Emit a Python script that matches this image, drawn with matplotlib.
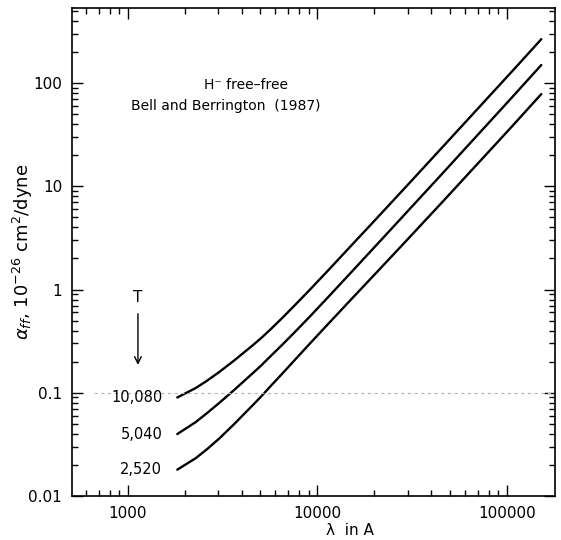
import matplotlib
matplotlib.use('Agg')
import matplotlib.pyplot as plt
from matplotlib.ticker import LogLocator, FixedLocator, FixedFormatter, NullFormatter

# wavelengths (Angstrom)
wavelength = [1823, 2278, 2604, 3038, 3645, 4557, 5063, 5696, 6510, 7595,
              9113, 11390, 15190, 18227, 22784, 30380, 45570, 60760,
              91130, 113900, 151890]

# alpha_ff in 1e-26 cm^2/dyne
alpha_10080 = [0.090, 0.111, 0.130, 0.159, 0.206, 0.288, 0.340, 0.416, 0.528, 0.703,
               0.993, 1.53, 2.70, 3.86, 6.00, 10.6, 23.8, 42.3,
               95.1, 148.6, 266]
alpha_5040 = [0.0398, 0.0519, 0.0631, 0.0798, 0.1067, 0.1545, 0.1845, 0.2286, 0.2904, 0.3864,
              0.5458, 0.8433, 1.489, 2.138, 3.327, 5.902, 13.24, 23.6,
              53.2, 83.4, 149.6]
alpha_2520 = [0.0180, 0.0232, 0.0282, 0.0361, 0.0499, 0.0757, 0.0925, 0.1172, 0.1524, 0.2075,
              0.2985, 0.4634, 0.8147, 1.161, 1.795, 3.155, 7.015, 12.45,
              27.9, 43.65, 78.2]

curves = [("10,080", alpha_10080), ("5,040", alpha_5040), ("2,520", alpha_2520)]

xticks = [1000, 10000, 100000]
xticklabels = ["1000", "10000", "100000"]
yticks = [0.01, 0.1, 1, 10, 100]
yticklabels = ["0.01", "0.1", "1", "10", "100"]

plt.rcParams['font.family'] = ['DejaVu Sans']

fig = plt.figure(figsize=(5.61, 5.40), dpi=100)
ax = fig.add_axes([0.128, 0.0815, 0.861, 0.9035])

for label, vals in curves:
    ax.plot(wavelength, vals, color='black', lw=1.7, solid_capstyle='round')
    ax.text(wavelength[0] / 1.2, vals[0], label, ha='right', va='center', fontsize=10.5)

# faint dotted line at 0.1 seen in the scan
ax.axhline(0.1, xmin=0.045, xmax=1.0, color='#b5b5b5', lw=0.8, ls=(0, (3, 3)))

ax.set_xscale('log')
ax.set_yscale('log')
ax.set_xlim(506, 179000)
ax.set_ylim(0.01, 532)

ax.xaxis.set_major_locator(FixedLocator(xticks))
ax.xaxis.set_major_formatter(FixedFormatter(xticklabels))
ax.yaxis.set_major_locator(FixedLocator(yticks))
ax.yaxis.set_major_formatter(FixedFormatter(yticklabels))
ax.xaxis.set_minor_locator(LogLocator(base=10, subs=range(2, 10)))
ax.yaxis.set_minor_locator(LogLocator(base=10, subs=range(2, 10)))
ax.xaxis.set_minor_formatter(NullFormatter())
ax.yaxis.set_minor_formatter(NullFormatter())

ax.tick_params(which='both', direction='in', top=True, right=True, labelsize=11, width=1.0)
ax.tick_params(which='major', length=8, pad=7)
ax.tick_params(which='minor', length=4)
for s in ax.spines.values():
    s.set_linewidth(1.2)

ax.set_xlabel("λ  in A", fontsize=11, x=0.576, labelpad=2)
ax.set_ylabel(r"$\alpha_{ff}$, 10$^{-26}$ cm$^{2}$/dyne", fontsize=13)
ax.yaxis.set_label_coords(-0.077, 0.5)

ax.text(0.36, 0.843, "H⁻ free–free", transform=ax.transAxes, ha='center', va='center', fontsize=10)
ax.text(0.318, 0.80, "Bell and Berrington  (1987)", transform=ax.transAxes,
        ha='center', va='center', fontsize=10)

# T with arrow
ax.text(1130, 0.83, "T", ha='center', va='center', fontsize=11)
ax.annotate("", xy=(1130, 0.175), xytext=(1130, 0.62),
            arrowprops=dict(arrowstyle='->', color='black', lw=1.0, mutation_scale=12))

fig.savefig('out.png', dpi=100, facecolor='white')
